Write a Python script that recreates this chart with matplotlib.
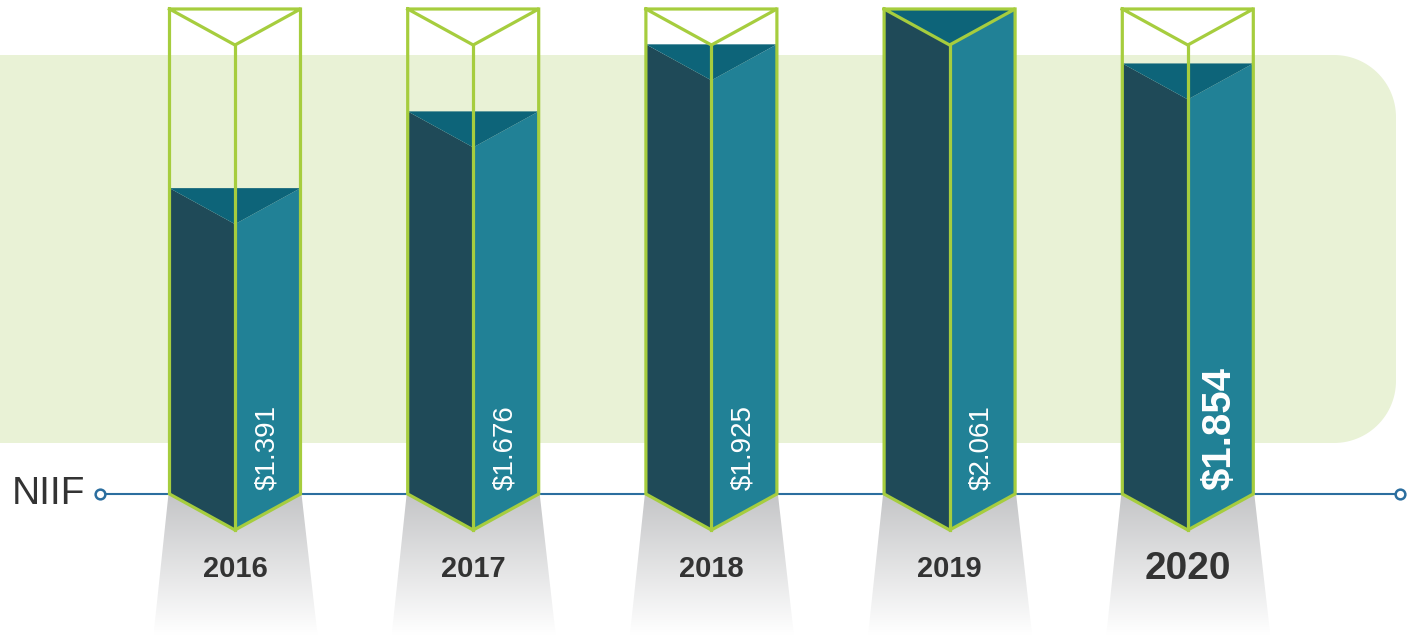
import numpy as np
import matplotlib
matplotlib.use('Agg')
import matplotlib.pyplot as plt
from matplotlib.patches import Polygon

years = ['2016', '2017', '2018', '2019', '2020']
values = [1.391, 1.676, 1.925, 2.061, 1.854]
labels = ['$1.391', '$1.676', '$1.925', '$2.061', '$1.854']
highlight = '2020'

plt.rcParams['font.family'] = ['Liberation Sans', 'DejaVu Sans']

W, H = 1415, 635
fig = plt.figure(figsize=(W / 100, H / 100), dpi=100)
ax = fig.add_axes([0, 0, 1, 1])
ax.axis('off')

# value scale: 1 unit = K px, value V0 sits on pixel row P0
K = 269.3
V0, P0 = 1.7814, 83


def py(p):
    # pixel row -> value units
    return V0 + (P0 - p) / K


ax.set_xlim(0, W)
ax.set_ylim(py(H), py(0))

GREEN = '#a6cd3e'
BG = '#e9f2d6'
DARK = '#1f4a58'
TEAL = '#218196'
TOP = '#0d6479'
BLUE = '#2b6e9f'
TXT = '#333333'

# rounded light green band
x0, x1, t, b, r = -200, 1396, 55, 443, 62
ang = np.linspace(0, np.pi / 2, 30)
pts = [(x0, t)]
pts += [(x1 - r + r * np.sin(a), t + r - r * np.cos(a)) for a in ang]
pts += [(x1 - r + r * np.cos(a), b - r + r * np.sin(a)) for a in ang]
pts += [(x0, b)]
ax.add_patch(Polygon([(x, py(y)) for x, y in pts], closed=True, fc=BG, ec='none', zorder=0))

# NIIF axis line
base = 494
ax.plot([100, 1400], [py(base)] * 2, color=BLUE, lw=1.5, zorder=1)
ax.plot([100, 1400], [py(base)] * 2, 'o', ms=7, mfc='white', mec=BLUE, mew=1.8, zorder=6)
ax.text(12, py(base), 'NIIF', fontsize=28, color=TXT, ha='left', va='center', zorder=6)

half, depth, otop = 65.5, 36, 9
step = 238.2
grad = np.linspace(0, 1, 200)[:, None]
c_top = np.array([0.77, 0.773, 0.78])
c_bot = np.array([1.0, 1.0, 1.0])
img = c_top[None, None, :] * (1 - grad[..., None]) + c_bot[None, None, :] * grad[..., None]

for i, (yr, v, lab) in enumerate(zip(years, values, labels)):
    c = 235 + step * i
    L, R = c - half, c + half
    yb = py(base)
    yv = py(base + depth)
    ytop = py(otop)
    d = depth / K

    # grey fading shadow below
    trap = Polygon([(L - 1, yb), (R + 1, yb), (R + 17, py(H)), (L - 16, py(H))],
                   closed=True, fc='none', ec='none')
    ax.add_patch(trap)
    im = ax.imshow(img, extent=(L - 16, R + 17, py(H), yb), aspect='auto',
                   origin='upper', zorder=2, interpolation='bilinear')
    im.set_clip_path(trap)

    # filled prism
    vt = min(v, ytop)
    ax.add_patch(Polygon([(L, vt), (c, vt - d), (c, yv), (L, yb)], fc=DARK, ec='none', zorder=3))
    ax.add_patch(Polygon([(c, vt - d), (R, vt), (R, yb), (c, yv)], fc=TEAL, ec='none', zorder=3))
    ax.add_patch(Polygon([(L, vt), (R, vt), (c, vt - d)], fc=TOP, ec='none', zorder=3))

    # outline
    lk = dict(color=GREEN, lw=2.3, zorder=4, solid_joinstyle='miter', solid_capstyle='projecting')
    ax.plot([L, R, c, L], [ytop, ytop, ytop - d, ytop], **lk)
    ax.plot([L, L, c, R, R], [ytop, yb, yv, yb, ytop], **lk)
    ax.plot([c, c], [ytop - d, yv], **lk)

    big = yr == highlight
    ax.text(c + half / 2 - 1, py(490), lab, rotation=90, ha='center', va='bottom',
            color='white', fontsize=29 if big else 20,
            fontweight='bold' if big else 'normal', zorder=5)
    ax.text(c, py(569), yr, ha='center', va='center', color=TXT,
            fontsize=28 if big else 21, fontweight='bold', zorder=5)

ax.set_xlim(0, W)
ax.set_ylim(py(H), py(0))
fig.savefig('out.png', dpi=100)
